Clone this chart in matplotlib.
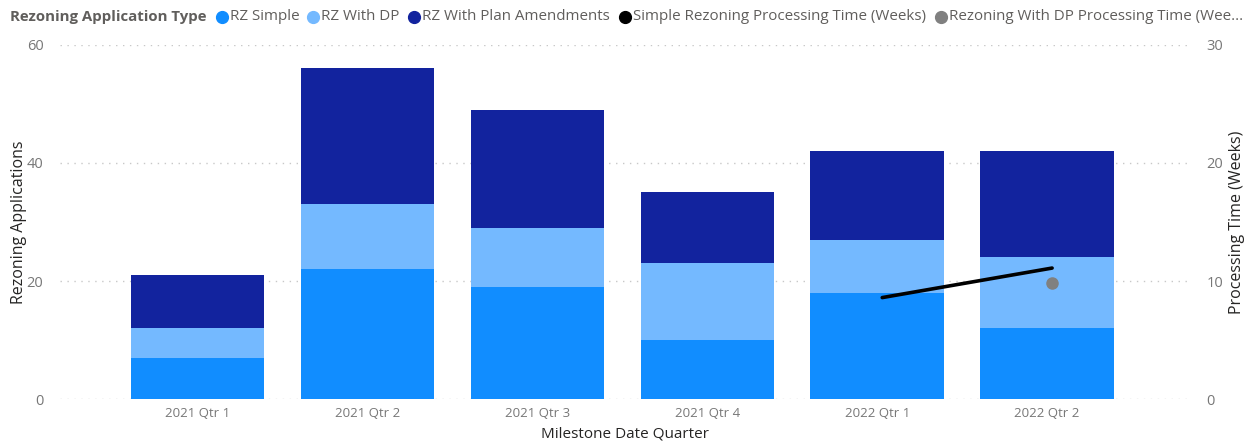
import matplotlib
matplotlib.use("Agg")
import matplotlib.pyplot as plt
import numpy as np

quarters = ["2021 Qtr 1", "2021 Qtr 2", "2021 Qtr 3", "2021 Qtr 4", "2022 Qtr 1", "2022 Qtr 2"]
rz_simple = [7, 22, 19, 10, 18, 12]
rz_with_dp = [5, 11, 10, 13, 9, 12]
rz_plan_amend = [9, 23, 20, 12, 15, 18]
simple_time = [None, None, None, None, 8.6, 11.1]
dp_time = [None, None, None, None, None, 9.8]

plt.rcParams['font.family'] = ['Open Sans', 'DejaVu Sans']

c_simple = "#118DFF"
c_dp = "#74B9FF"
c_plan = "#12239E"
c_line = "#000000"
c_dot = "#808080"
txt = "#605E5C"
tick_c = "#777777"

fig = plt.figure(figsize=(12.51, 4.44), dpi=100)
ax = fig.add_axes([0.048, 0.101, 0.903, 0.798])
x = np.arange(len(quarters))
w = 0.785
s = np.array(rz_simple)
d = np.array(rz_with_dp)
p = np.array(rz_plan_amend)
ax.bar(x, s, w, color=c_simple, zorder=2)
ax.bar(x, d, w, bottom=s, color=c_dp, zorder=2)
ax.bar(x, p, w, bottom=s + d, color=c_plan, zorder=2)
ax.set_ylim(0, 60)
ax.set_xlim(-0.81, 5.84)
ax.set_yticks([0, 20, 40, 60])
ax.set_xticks(x)
ax.set_xticklabels(quarters)
for sp in ax.spines.values():
    sp.set_visible(False)
ax.tick_params(axis='both', length=0, colors=tick_c, labelsize=9.5)
ax.tick_params(axis='y', pad=12, labelsize=10.5)
ax.tick_params(axis='x', pad=6)
ax.grid(axis='y', linestyle=(0, (1, 4)), color="#C8C8C8", linewidth=1, zorder=0)
ax.set_ylabel("Rezoning Applications", color="#252423", fontsize=11.5, labelpad=0)
ax.set_xlabel("Milestone Date Quarter", color="#252423", fontsize=11, labelpad=4)

ax2 = ax.twinx()
ax2.set_ylim(0, 30)
ax2.set_yticks([0, 10, 20, 30])
for sp in ax2.spines.values():
    sp.set_visible(False)
ax2.tick_params(axis='y', length=0, colors=tick_c, labelsize=10.5, pad=12)
ax2.set_ylabel("Processing Time (Weeks)", color="#252423", fontsize=11.5, labelpad=4)
off = 0.03
xs = [xi + off for xi, v in zip(x, simple_time) if v is not None]
ys = [v for v in simple_time if v is not None]
ax2.plot(xs, ys, color=c_line, linewidth=2.6, solid_capstyle='round', zorder=5)
xd = [xi + off for xi, v in zip(x, dp_time) if v is not None]
yd = [v for v in dp_time if v is not None]
ax2.plot(xd, yd, 'o', color=c_dot, markersize=8, zorder=5)

# legend
ly = 1 - 17 / 444
fig.text(10 / 1251, ly, "Rezoning Application Type", fontsize=10.8, fontweight='bold',
         color=txt, va='center', ha='left')
items = [
    (222, c_simple, "RZ Simple"),
    (313, c_dp, "RZ With DP"),
    (414, c_plan, "RZ With Plan Amendments"),
    (625, c_line, "Simple Rezoning Processing Time (Weeks)"),
    (941, c_dot, "Rezoning With DP Processing Time (Wee..."),
]
for px, col, label in items:
    fig.lines.append(plt.Line2D([px / 1251], [ly], marker='o', markersize=8.5, color=col,
                                linestyle='none', transform=fig.transFigure))
    fig.text((px + 8) / 1251, ly, label, fontsize=10.9, color=txt, va='center', ha='left')

fig.savefig("out.png", dpi=100)
